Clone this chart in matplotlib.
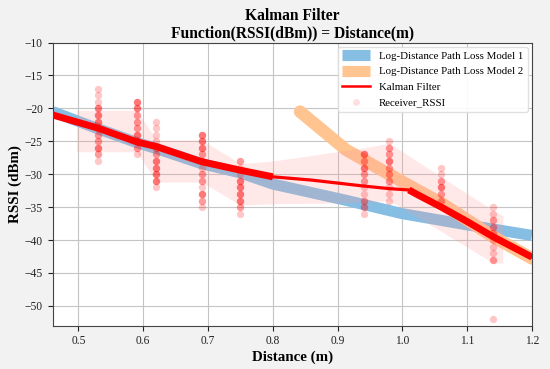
import matplotlib
matplotlib.use('Agg')
import matplotlib.pyplot as plt
from matplotlib.lines import Line2D
import numpy as np

plt.rcParams['font.family'] = ['Liberation Serif', 'DejaVu Serif']

# DATOS ---------
# modelo 1 (log-distance path loss)
model1_d = [0.46, 0.53, 0.59, 0.62, 0.69, 0.75, 0.80, 0.91, 1.00, 1.10, 1.20]
model1_rssi = [-20.5, -23.1, -25.2, -26.1, -28.4, -29.8, -31.5, -33.9, -36.0, -37.7, -39.3]

# modelo 2
model2_d = [0.842, 0.913, 0.981, 1.019, 1.06, 1.101, 1.14, 1.20]
model2_rssi = [-20.5, -26.3, -30.1, -32.2, -34.4, -37.0, -39.5, -42.8]

# filtro de Kalman
kalman_d = [0.46, 0.53, 0.59, 0.62, 0.69, 0.75, 0.80, 0.86, 0.94, 0.98,
            1.01, 1.025, 1.06, 1.10, 1.14, 1.20]
kalman_rssi = [-21.0, -23.0, -25.1, -25.8, -28.1, -29.4, -30.4, -30.9, -31.8, -32.2,
               -32.4, -33.2, -35.0, -37.2, -39.5, -42.6]

# lecturas del receptor por distancia
rssi_dist = [0.53, 0.59, 0.62, 0.69, 0.75, 0.94, 0.98, 1.06, 1.14]
rssi_vals = [
    [-17, -18, -19, -20, -20, -20, -21, -21, -21, -22, -22, -22, -23, -23,
     -24, -24, -25, -25, -26, -26, -26, -27, -27, -28],
    [-19, -19, -19, -20, -20, -20, -21, -21, -22, -22, -23, -23, -24, -24,
     -24, -25, -25, -25, -26, -26, -27],
    [-22, -23, -24, -25, -26, -26, -27, -27, -28, -28, -28, -29, -29, -29,
     -30, -30, -30, -31, -31, -31, -32],
    [-24, -24, -24, -25, -25, -25, -26, -26, -26, -27, -27, -28, -28, -29,
     -30, -30, -31, -31, -32, -33, -33, -33, -34, -34, -35],
    [-28, -28, -29, -30, -31, -31, -31, -32, -32, -32, -33, -33, -33, -34,
     -34, -34, -35, -35, -36],
    [-27, -27, -27, -28, -28, -29, -29, -29, -30, -30, -31, -31, -32, -33,
     -34, -34, -35, -35, -36],
    [-25, -26, -26, -27, -27, -28, -28, -28, -29, -29, -30, -30, -31, -31,
     -32, -33, -34],
    [-29, -30, -31, -31, -32, -32, -32, -33, -33, -34, -34],
    [-35, -36, -37, -37, -38, -38, -39, -39, -40, -41, -42, -43, -43, -52],
]

# banda de dispersion del RSSI
band_d = [0.497, 0.53, 0.59, 0.62, 0.69, 0.75, 0.80, 0.94, 0.98, 1.06, 1.14, 1.155]
band_hi = [-20.3, -20.3, -20.3, -24.8, -24.8, -28.4, -28.0, -26.0, -25.3, -30.4, -35.5, -36.3]
band_lo = [-26.6, -26.6, -26.6, -31.2, -31.2, -34.7, -34.5, -34.3, -34.0, -38.7, -43.5, -43.5]

azul = '#86bde3'
naranja = '#ffc490'

# GRAFICA ---------
fig = plt.figure(figsize=(5.5, 3.69), dpi=100, facecolor='#f2f2f2')
ax = fig.add_axes([0.0956, 0.1176, 0.8716, 0.7672])
ax.set_facecolor('white')

ax.plot(model1_d, model1_rssi, color=azul, lw=8, solid_capstyle='butt', zorder=2)
ax.plot(model2_d, model2_rssi, color=naranja, lw=9, solid_capstyle='round', zorder=2)

ax.fill_between(band_d, band_lo, band_hi, color='#ff9999', alpha=0.22,
                lw=0, zorder=3)

# puntos del receptor
px = []
py = []
for d, vals in zip(rssi_dist, rssi_vals):
    px += [d] * len(vals)
    py += vals
ax.scatter(px, py, s=28, color='red', alpha=0.22, lw=0, zorder=4)

kd = np.array(kalman_d)
kr = np.array(kalman_rssi)
ax.plot(kd, kr, color='red', lw=2.3, zorder=5)
grueso = np.ma.masked_where((kd > 0.80) & (kd < 1.01), kr)
ax.plot(kd, grueso, color='red', lw=5, solid_capstyle='butt', zorder=5)

ax.set_xlim(0.46, 1.2)
ax.set_ylim(-53, -10)
ax.set_xticks(np.arange(0.5, 1.21, 0.1))
ax.set_yticks(np.arange(-50, -9, 5))
ax.tick_params(labelsize=8.3, colors='#222222')
ax.grid(True, color='#c4c4c4', lw=0.8)
ax.set_axisbelow(True)
for s in ax.spines.values():
    s.set_color('#444444')

ax.set_xlabel('Distance (m)', fontsize=10.8, fontweight='bold', labelpad=2)
ax.set_ylabel('RSSI (dBm)', fontsize=10.8, fontweight='bold', labelpad=2)
ax.set_title('Kalman Filter\nFunction(RSSI(dBm)) = Distance(m)', fontsize=11.2,
             fontweight='bold', pad=4, linespacing=1.05)

# leyenda
hh = [Line2D([], [], color=azul, lw=8, solid_capstyle='butt'),
      Line2D([], [], color=naranja, lw=8, solid_capstyle='butt'),
      Line2D([], [], color='red', lw=1.8),
      Line2D([], [], marker='o', ls='', ms=5, color='red', alpha=0.12, mew=0)]
ll = ['Log-Distance Path Loss Model 1', 'Log-Distance Path Loss Model 2',
      'Kalman Filter', 'Receiver_RSSI']
ax.legend(hh, ll, loc='upper right', fontsize=7.8, borderaxespad=0.4,
          framealpha=0.9, edgecolor='#dddddd', handlelength=2.6,
          labelspacing=0.55)

fig.savefig('out.png', dpi=100, facecolor=fig.get_facecolor())
